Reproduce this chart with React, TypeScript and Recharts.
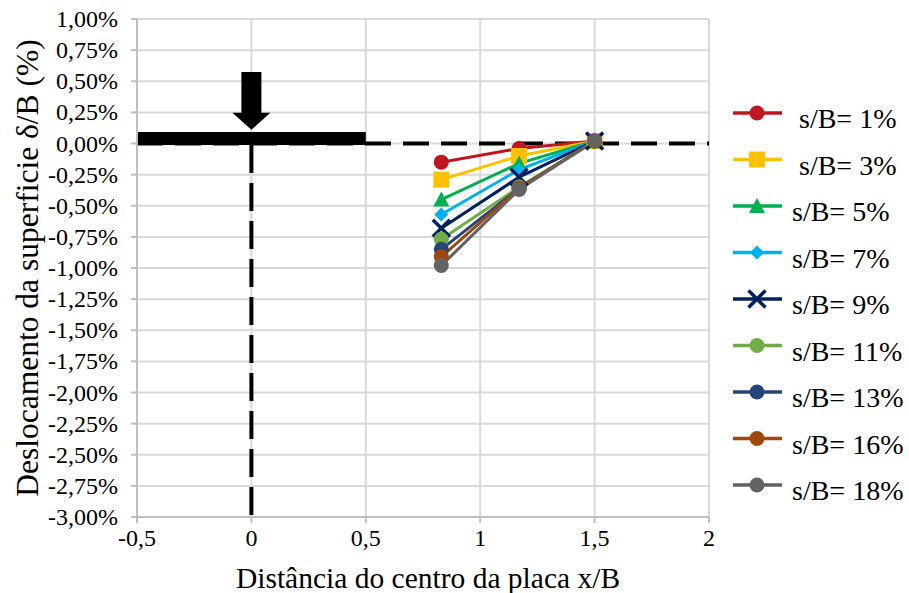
import React from 'react';
import {
  LineChart, Line, XAxis, YAxis, CartesianGrid, ReferenceLine, ReferenceArea
} from 'recharts';

// x/B positions of the measuring points
const xPositions = [0.83, 1.17, 1.5];

// surface displacement δ/B (%) for each plate settlement s/B
const sB1 = [-0.15, -0.04, 0.02];
const sB3 = [-0.29, -0.1, 0.02];
const sB5 = [-0.45, -0.16, 0.02];
const sB7 = [-0.57, -0.21, 0.02];
const sB9 = [-0.68, -0.27, 0.02];
const sB11 = [-0.77, -0.35, 0.02];
const sB13 = [-0.85, -0.36, 0.02];
const sB16 = [-0.91, -0.36, 0.02];
const sB18 = [-0.98, -0.37, 0.02];

const seriesLabels = [' s/B= 1%', ' s/B= 3%', 's/B= 5%', 's/B= 7%', 's/B= 9%', 's/B= 11%', 's/B= 13%', 's/B= 16%', 's/B= 18%'];
const seriesValues = [sB1, sB3, sB5, sB7, sB9, sB11, sB13, sB16, sB18];
const seriesColors = ['#C0161F', '#FFC000', '#00B050', '#00B0F0', '#002060', '#70AD47', '#264478', '#9E480E', '#636363'];
const seriesMarkers = ['circle', 'square', 'triangle', 'diamond', 'cross', 'circle', 'circle', 'circle', 'circle'];

const xTicks = [-0.5, 0, 0.5, 1, 1.5, 2];
const yTicks = [1, 0.75, 0.5, 0.25, 0, -0.25, -0.5, -0.75, -1, -1.25, -1.5, -1.75, -2, -2.25, -2.5, -2.75, -3];

const series = seriesLabels.map((name, i) => ({
  key: `s${i}`,
  name,
  color: seriesColors[i],
  marker: seriesMarkers[i],
}));

const data = xPositions.map((x, i) => {
  const row: any = { x };
  seriesValues.forEach((vals, j) => { row[`s${j}`] = vals[i]; });
  return row;
});

const FONT = '"Liberation Serif", "Times New Roman", serif';
const GRID = '#d9d9d9';
const AXIS = '#bfbfbf';

function renderMarker(marker: string, color: string, cx: number, cy: number, key?: any) {
  switch (marker) {
    case 'square':
      return <rect key={key} x={cx - 8} y={cy - 8} width={16} height={16} fill={color} />;
    case 'triangle':
      return <polygon key={key} points={`${cx},${cy - 8} ${cx + 8},${cy + 7} ${cx - 8},${cy + 7}`} fill={color} />;
    case 'diamond':
      return <polygon key={key} points={`${cx},${cy - 7} ${cx + 7},${cy} ${cx},${cy + 7} ${cx - 7},${cy}`} fill={color} />;
    case 'cross':
      return (
        <g key={key} stroke={color} strokeWidth={3.5}>
          <line x1={cx - 8.5} y1={cy - 8.5} x2={cx + 8.5} y2={cy + 8.5} />
          <line x1={cx - 8.5} y1={cy + 8.5} x2={cx + 8.5} y2={cy - 8.5} />
        </g>
      );
    default:
      return <circle key={key} cx={cx} cy={cy} r={7.5} fill={color} />;
  }
}

const fmtY = (v: number) => `${v.toFixed(2).replace('.', ',')}%`;
const fmtX = (v: number) => String(v).replace('.', ',');

function YTick(props: any) {
  const { x, y, payload } = props;
  return (
    <text x={x} y={y} dy={8} textAnchor="end" fontFamily={FONT} fontSize={24} fill="#000">
      {fmtY(payload.value)}
    </text>
  );
}

function XTick(props: any) {
  const { x, y, payload } = props;
  return (
    <text x={x} y={y} dy={16} textAnchor="middle" fontFamily={FONT} fontSize={24} fill="#000">
      {fmtX(payload.value)}
    </text>
  );
}

function YLabel() {
  const cy = 268;
  return (
    <text x={38} y={cy} transform={`rotate(-90, 38, ${cy})`} textAnchor="middle"
      fontFamily={FONT} fontSize={31.5} fill="#000">
      Deslocamento da superficie δ/B (%)
    </text>
  );
}

function XLabel() {
  return (
    <text x={428} y={588} textAnchor="middle" fontFamily={FONT} fontSize={29.5} fill="#000">
      Distância do centro da placa x/B
    </text>
  );
}

// load arrow above the plate
function Arrow(props: any) {
  const { x, y, width, height } = props;
  const cx = x + width / 2;
  const sw = width * (10 / 38);
  const hh = height * (17 / 58);
  const pts = [
    [cx - sw, y], [cx + sw, y], [cx + sw, y + height - hh], [x + width, y + height - hh],
    [cx, y + height], [x, y + height - hh], [cx - sw, y + height - hh],
  ].map((p) => p.join(',')).join(' ');
  return <polygon points={pts} fill="#000" />;
}

function LegendBox() {
  return (
    <svg width={184} height={440} style={{ position: 'absolute', left: 725, top: 80 }}>
      {series.map((s, i) => {
        const cy = 33 + i * 46.5;
        return (
          <g key={s.key}>
            <line x1={8} x2={57} y1={cy} y2={cy} stroke={s.color} strokeWidth={3.5} />
            {renderMarker(s.marker, s.color, 32, cy)}
            <text x={67} y={cy + 15} fontFamily={FONT} fontSize={28} fill="#000" style={{ whiteSpace: 'pre' }}>
              {s.name}
            </text>
          </g>
        );
      })}
    </svg>
  );
}

export default function App() {
  return (
    <div style={{ position: 'absolute', left: 0, top: 0, width: 909, height: 593, background: '#fff', fontFamily: FONT }}>
      <LineChart width={909} height={593} data={data} margin={{ top: 19, right: 200, bottom: 0, left: 0 }}>
        <CartesianGrid stroke={GRID} strokeWidth={2} />
        <XAxis
          dataKey="x"
          type="number"
          domain={[-0.5, 2]}
          ticks={xTicks}
          height={76}
          stroke={AXIS}
          strokeWidth={2}
          tickSize={6}
          tickMargin={7}
          tick={<XTick />}
          label={<XLabel />}
        />
        <YAxis
          type="number"
          domain={[-3, 1]}
          ticks={yTicks}
          width={137}
          stroke={AXIS}
          strokeWidth={2}
          tickSize={6}
          tickMargin={13}
          interval={0}
          tick={<YTick />}
          label={<YLabel />}
        />
        <ReferenceLine y={0} stroke="#000" strokeWidth={4} strokeDasharray="26 12" />
        <ReferenceLine segment={[{ x: 0, y: -0.012 }, { x: 0, y: -3 }]} stroke="#000" strokeWidth={4} strokeDasharray="28 10" />
        <ReferenceArea x1={-0.5} x2={0.5} y1={-0.012} y2={0.092} fill="#000" fillOpacity={1} stroke="none" />
        <ReferenceArea x1={-0.083} x2={0.083} y1={0.11} y2={0.575} shape={<Arrow />} />
        {series.map((s) => (
          <Line
            key={s.key}
            dataKey={s.key}
            name={s.name}
            type="linear"
            stroke={s.color}
            strokeWidth={3}
            isAnimationActive={false}
            dot={(p: any) => renderMarker(s.marker, s.color, p.cx, p.cy, `${s.key}-${p.index}`)}
            activeDot={false}
          />
        ))}
      </LineChart>
      <LegendBox />
    </div>
  );
}
